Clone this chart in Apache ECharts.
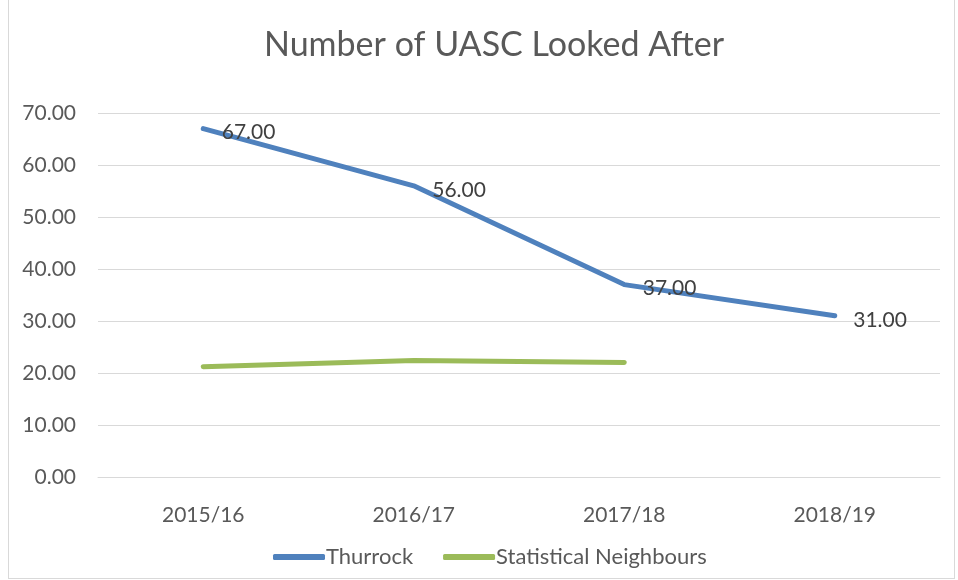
<!DOCTYPE html>
<html>
<head>
<meta charset="utf-8">
<script src="https://cdn.jsdelivr.net/npm/echarts@6/dist/echarts.min.js"></script>
<style>
    html, body { margin: 0; padding: 0; background: #fff; }
    #chart { width: 958px; height: 580px; box-sizing: border-box; }
    .frame { position: absolute; left: 8px; top: -1px; width: 947px; height: 580px; border: 1px solid #d9d9d9; box-sizing: border-box; pointer-events: none; }
</style>
</head>
<body>
<div id="chart"></div>
<div class="frame"></div>
<script>
const years = ['2015/16', '2016/17', '2017/18', '2018/19'];
const thurrock = [67, 56, 37, 31];
const neighbours = [21.2, 22.4, 22.0, null];
const yTicks = { min: 0, max: 70, step: 10 };

const font = 'Lato, "Open Sans", sans-serif';
const chart = echarts.init(document.getElementById('chart'));

const option = {
    animation: false,
    title: {
        text: 'Number of UASC Looked After',
        left: 259,
        top: 23,
        textStyle: { fontFamily: font, fontSize: 34, fontWeight: 'normal', color: '#595959' },
    },
    grid: { left: 98, right: 18, top: 113, bottom: 103 },
    legend: {
        bottom: 7,
        left: 268,
        itemWidth: 52,
        itemHeight: 6,
        itemGap: 30,
        icon: 'roundRect',
        textStyle: { fontFamily: font, fontSize: 22, color: '#595959', padding: [0, 0, 0, -4] },
        data: ['Thurrock', 'Statistical Neighbours'],
    },
    xAxis: {
        type: 'category',
        data: years,
        axisLine: { lineStyle: { color: '#d9d9d9', width: 1 } },
        axisTick: { show: false },
        axisLabel: { fontFamily: font, fontSize: 21, color: '#595959', margin: 28 },
    },
    yAxis: {
        type: 'value',
        min: yTicks.min,
        max: yTicks.max,
        interval: yTicks.step,
        axisLine: { show: false },
        axisTick: { show: false },
        splitLine: { lineStyle: { color: '#d9d9d9', width: 1 } },
        axisLabel: {
            fontFamily: font, fontSize: 21, color: '#595959', margin: 22,
            formatter: (v) => v.toFixed(2),
        },
    },
    series: [
        {
            name: 'Thurrock',
            type: 'line',
            data: thurrock,
            symbol: 'circle',
            symbolSize: 1,
            showSymbol: true,
            lineStyle: { color: '#4f81bd', width: 5, cap: 'round', join: 'round' },
            itemStyle: { color: '#4f81bd' },
            label: {
                show: true,
                position: 'right',
                distance: 18,
                offset: [0, 4],
                fontFamily: font,
                fontSize: 21,
                color: '#404040',
                formatter: (p) => p.value.toFixed(2),
            },
            z: 3,
        },
        {
            name: 'Statistical Neighbours',
            type: 'line',
            data: neighbours,
            symbol: 'none',
            lineStyle: { color: '#9bbb59', width: 5, cap: 'round', join: 'round' },
            itemStyle: { color: '#9bbb59' },
            z: 2,
        },
    ],
};

chart.setOption(option);
</script>
</body>
</html>
